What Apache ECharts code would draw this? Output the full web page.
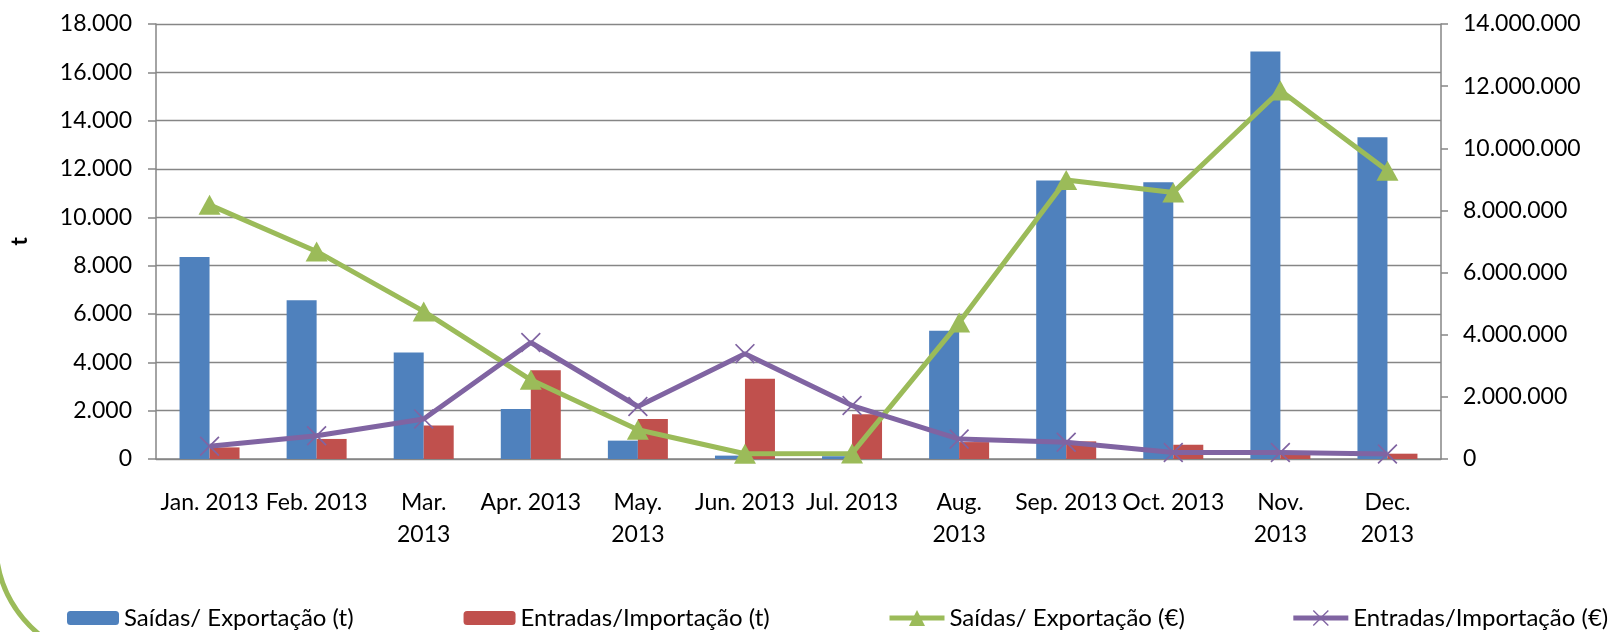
<!DOCTYPE html>
<html>
<head>
<meta charset="utf-8">
<script src="https://cdn.jsdelivr.net/npm/echarts@6/dist/echarts.min.js"></script>
<style>
html,body{margin:0;padding:0;background:#fff;}
#chart{width:1619px;height:632px;}
</style>
</head>
<body>
<div id="chart"></div>
<script>
// ---- data ----
const categories = ['Jan. 2013','Feb. 2013','Mar. 2013','Apr. 2013','May. 2013','Jun. 2013','Jul. 2013','Aug. 2013','Sep. 2013','Oct. 2013','Nov. 2013','Dec. 2013'];
const tickLabels = ['Jan. 2013','Feb. 2013','Mar.\n2013','Apr. 2013','May.\n2013','Jun. 2013','Jul. 2013','Aug.\n2013','Sep. 2013','Oct. 2013','Nov.\n2013','Dec.\n2013'];
const saidasT = [8360, 6570, 4410, 2070, 760, 140, 115, 5310, 11520, 11450, 16860, 13310];
const entradasT = [480, 830, 1390, 3670, 1660, 3320, 1850, 700, 730, 590, 250, 220];
const saidasEur = [8180000, 6680000, 4750000, 2550000, 940000, 170000, 180000, 4390000, 8980000, 8580000, 11860000, 9280000];
const entradasEur = [410000, 750000, 1290000, 3750000, 1690000, 3390000, 1720000, 640000, 540000, 210000, 210000, 160000];
const seriesNames = ['Saídas/ Exportação (t)','Entradas/Importação (t)','Saídas/ Exportação (€)','Entradas/Importação (€)'];
const leftAxisName = 't';

const FONT = 'Lato';
const fmt = v => String(v).replace(/\B(?=(\d{3})+(?!\d))/g, '.');
const GRID = '#868686';
const xSym = 'path://M0,6L6,0L50,44L94,0L100,6L56,50L100,94L94,100L50,56L6,100L0,94L44,50Z';

const legendText = {fontFamily: FONT, fontSize: 24, color: '#000'};

const chart = echarts.init(document.getElementById('chart'), null, {renderer:'canvas'});
chart.setOption({
  animation: false,
  backgroundColor: '#fff',
  textStyle: {fontFamily: FONT, color: '#000'},
  grid: {left: 151, right: 178, top: 24, bottom: 173, containLabel: false},
  legend: [
    {
      left: 62, top: 601, padding: 5,
      itemWidth: 52, itemHeight: 14, itemGap: 110,
      textStyle: legendText,
      data: [seriesNames[0], seriesNames[1]]
    },
    {
      left: 882, top: 601, padding: 5,
      itemWidth: 55, itemHeight: 20, itemGap: 106,
      textStyle: legendText,
      lineStyle: {width: 5},
      data: [seriesNames[2], seriesNames[3]]
    }
  ],
  xAxis: {
    type: 'category', data: categories,
    axisLine: {lineStyle: {color: GRID, width: 1.5}},
    axisTick: {show: false},
    axisLabel: {
      interval: 0, margin: 28, fontSize: 23, lineHeight: 32, color: '#000', fontFamily: FONT,
      formatter: (v, i) => tickLabels[i]
    }
  },
  yAxis: [
    {
      type: 'value', min: 0, max: 18000, interval: 2000,
      name: leftAxisName, nameLocation: 'middle', nameGap: 125, nameRotate: 90,
      nameTextStyle: {fontFamily: FONT, fontSize: 23, fontWeight: 'bold', color: '#000'},
      axisLine: {show: true, lineStyle: {color: GRID, width: 1.5}},
      axisTick: {show: true, length: 8, lineStyle: {color: GRID, width: 1.5}},
      splitLine: {show: true, lineStyle: {color: GRID, width: 1.3}},
      axisLabel: {margin: 24, fontSize: 23, color: '#000', fontFamily: FONT, formatter: fmt}
    },
    {
      type: 'value', min: 0, max: 14000000, interval: 2000000, position: 'right',
      axisLine: {show: true, lineStyle: {color: GRID, width: 1.5}},
      axisTick: {show: true, length: 7, lineStyle: {color: GRID, width: 1.5}},
      splitLine: {show: false},
      axisLabel: {margin: 22, fontSize: 23, color: '#000', fontFamily: FONT, formatter: fmt}
    }
  ],
  series: [
    {name: seriesNames[0], type: 'bar', data: saidasT, barWidth: 30, barGap: '0%',
      itemStyle: {color: '#4F81BD'}},
    {name: seriesNames[1], type: 'bar', data: entradasT, barWidth: 30, barGap: '0%',
      itemStyle: {color: '#C0504D'}},
    {name: seriesNames[2], type: 'line', yAxisIndex: 1, data: saidasEur,
      symbol: 'triangle', symbolSize: [22, 20], showAllSymbol: true,
      lineStyle: {color: '#9BBB59', width: 5}, itemStyle: {color: '#9BBB59'}},
    {name: seriesNames[3], type: 'line', yAxisIndex: 1, data: entradasEur,
      symbol: xSym, symbolSize: 20, showAllSymbol: true,
      lineStyle: {color: '#8064A2', width: 5}, itemStyle: {color: '#8064A2'}}
  ],
  graphic: [{
    type: 'bezierCurve', silent: true,
    shape: {x1: -3, y1: 560, cpx1: 4, cpy1: 608, x2: 46, y2: 640},
    style: {stroke: '#9BBB59', lineWidth: 5, fill: null}
  }]
});
</script>
</body>
</html>
